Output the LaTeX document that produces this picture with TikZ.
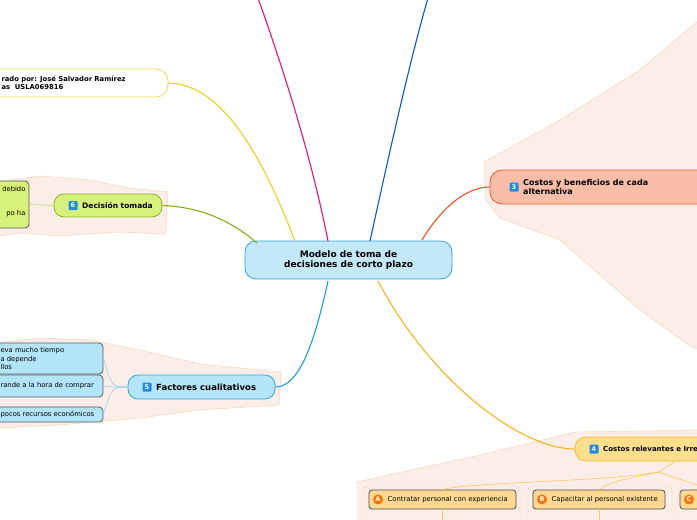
\documentclass[tikz,border=0pt]{standalone}
\usepackage{fontspec}
\setmainfont{DejaVu Sans}
\usetikzlibrary{positioning}
\definecolor{area}{HTML}{FBEEE9}
\definecolor{areab}{HTML}{F9CFA5}
\definecolor{cfill}{RGB}{197,232,248}
\definecolor{pink}{RGB}{230,20,110}
\definecolor{dblue}{RGB}{10,90,190}
\definecolor{ylw}{RGB}{235,210,20}
\definecolor{ylwb}{RGB}{240,220,80}
\definecolor{gb}{RGB}{140,180,40}
\definecolor{gf}{RGB}{214,242,122}
\definecolor{gl}{RGB}{190,220,110}
\definecolor{gc}{RGB}{130,175,20}
\definecolor{rb}{RGB}{241,90,36}
\definecolor{rf}{RGB}{249,189,168}
\definecolor{rc}{RGB}{241,80,30}
\definecolor{bb}{RGB}{47,166,222}
\definecolor{bf}{RGB}{179,229,249}
\definecolor{bc}{RGB}{20,160,225}
\definecolor{bl}{RGB}{150,210,235}
\definecolor{ob}{RGB}{248,182,46}
\definecolor{of}{RGB}{255,223,140}
\definecolor{oc}{RGB}{250,180,20}
\definecolor{af}{RGB}{255,217,145}
\definecolor{ol}{RGB}{250,200,90}
\definecolor{iconb}{RGB}{30,140,230}
\tikzset{x=1pt,y=-1pt,
 box/.style={draw,rounded corners=#1,line width=0.8pt},
 icon/.style={fill=iconb,rounded corners=1pt,text=white,font=\fontsize{6.5}{6.5}\selectfont\bfseries,inner sep=1pt,minimum size=9pt},
 lbl/.style={font=\fontsize{7.5}{9}\selectfont\bfseries,align=left,anchor=west},
 sm/.style={font=\fontsize{6.8}{8.5}\selectfont,align=left,anchor=west},
 con/.style={line width=1.1pt},
 thin/.style={line width=0.6pt}}
\begin{document}
\begin{tikzpicture}
\useasboundingbox (0,0) rectangle (697,520);
\clip (0,0) rectangle (697,520);
% areas
\draw[fill=area,draw=areab] (-5,182) -- (40,176) -- (90,180) -- (130,188) -- (168,192) -- (166,234) -- (120,232) -- (60,236) -- (20,233) -- (-5,237) -- cycle;
\draw[fill=area,draw=areab] (-5,343) -- (40,338) -- (90,340) -- (140,350) -- (200,364) -- (281,372) -- (279,405) -- (200,410) -- (140,418) -- (60,425) -- (0,428) -- cycle;
\draw[fill=area,draw=areab] (484,162) -- (560,120) -- (640,70) -- (697,22) -- (705,22) -- (705,352) -- (690,346) -- (640,310) -- (560,240) -- (500,218) -- (486,200) -- cycle;
\draw[fill=area,draw=areab] (357,482) -- (420,468) -- (480,455) -- (530,443) -- (575,432) -- (705,430) -- (705,525) -- (357,525) -- cycle;
\foreach \a/\b in {363/520,528/672,678/720}
  \draw[fill=area,draw=areab,rounded corners=5pt] (\a,486) rectangle (\b,530);
% central
\node[box=11pt,draw=bb,fill=cfill,minimum width=207pt,minimum height=38pt,align=center,font=\fontsize{9}{10.5}\selectfont\bfseries] (c) at (348.5,260) {Modelo de toma de\\decisiones de corto plazo};
\coordinate (t1) at (258,-2); \coordinate (t2) at (428,-2);
\draw[con,draw=pink] (328,241) .. controls (310,150) and (280,60) .. (t1);
\draw[con,draw=dblue] (370,241) .. controls (390,150) and (410,60) .. (t2);
% author
\node[box=12pt,draw=ylwb,fill=white,minimum width=190pt,minimum height=28pt] (au) at (73,83) {};
\node[lbl,font=\fontsize{6.8}{8}\selectfont\bfseries] at (-2,83) {rado por: José Salvador Ramírez\\as\ \ USLA069816};
\draw[con,draw=ylw] (295,241) .. controls (260,150) and (220,84) .. (au.east);
% decision
\node[box=10pt,draw=gb,fill=gf,minimum width=108pt,minimum height=23pt] (d) at (108,205.5) {};
\node[icon] (i6) at (73,205.5) {6};
\node[lbl,right=1pt of i6] {Decisión tomada};
\node[box=4pt,draw=gray!70!black,fill=gf,minimum width=40pt,minimum height=47pt] (d1) at (9,204.5) {};
\node[sm,anchor=east] at (29,189) {debido};
\node[sm,anchor=east] at (29,214) {po ha};
\draw[thin,draw=gl] (d.west) -- (d1.east);
\draw[con,draw=gc] (257,243) .. controls (230,220) and (200,207) .. (d.east);
% costos y beneficios
\node[box=12pt,draw=rb,fill=rf,minimum width=230pt,minimum height=34pt] (cb) at (605,187) {};
\node[icon] (i3) at (514,187) {3};
\node[lbl,right=1pt of i3,font=\fontsize{8}{9.5}\selectfont\bfseries] {Costos y beneficios de cada\\alternativa};
\draw[con,draw=rc] (422,240) .. controls (440,210) and (465,187) .. (cb.west);
% factores
\node[box=10pt,draw=bb,fill=bf,minimum width=147pt,minimum height=24pt] (f) at (201.5,387) {};
\node[icon] (i5) at (147,387) {5};
\node[lbl,right=1pt of i5,font=\fontsize{8.5}{9}\selectfont\bfseries] {Factores cualitativos};
\draw[con,draw=bc] (328,281) .. controls (315,340) and (300,387) .. (f.east);
\tikzset{fb/.style={box=4pt,draw=gray!70!black,fill=bf}}
\node[fb,minimum width=113pt,minimum height=31pt] (f1) at (46.5,358.5) {};
\node[sm] at (-3,358.5) {eva mucho tiempo\\a depende\\llos};
\node[fb,minimum width=113pt,minimum height=22pt] (f2) at (46.5,386) {};
\node[sm] at (-3,386) {rande a la hora de comprar};
\node[fb,minimum width=113pt,minimum height=15pt] (f3) at (46.5,414.5) {};
\node[sm] at (-3,414.5) {pocos recursos económicos};
\foreach \n in {f1,f2,f3}
  \draw[thin,draw=bl] (f.west) .. controls (112,387) and (112,387) .. (\n.east);
% costos relevantes
\node[box=11pt,draw=ob,fill=of,minimum width=200pt,minimum height=24pt] (cr) at (675,449) {};
\node[icon] (i4) at (594,449) {4};
\node[lbl,right=1pt of i4,font=\fontsize{7}{8}\selectfont\bfseries] {Costos relevantes e Irrelevantes};
\draw[con,draw=oc] (378,281) .. controls (430,380) and (520,449) .. (cr.west);
\tikzset{ab/.style={box=3pt,draw=gray!60!black,fill=af,minimum height=19pt}}
\node[ab,minimum width=147pt] (a) at (442.5,499.5) {};
\node[ab,minimum width=132pt] (b) at (599,499.5) {};
\node[ab,minimum width=60pt] (cc) at (710,499.5) {};
\tikzset{oi/.style={circle,fill=orange!90!red,text=white,inner sep=0.5pt,minimum size=10pt,font=\fontsize{6.5}{6.5}\selectfont\bfseries}}
\node[oi] (icA) at (378,499.5) {A};
\node[sm,right=1pt of icA] {Contratar personal con experiencia};
\node[oi] (icB) at (542,499.5) {B};
\node[sm,right=1pt of icB] {Capacitar al personal existente};
\node[oi] (icC) at (689,499.5) {C};
\coordinate (j) at (659,472);
\draw[thin,draw=ol] (cr.south) -- (j) .. controls (600,482) and (470,482) .. (a.north);
\draw[thin,draw=ol] (j) .. controls (620,480) and (610,482) .. (b.north);
\draw[thin,draw=ol] (j) .. controls (680,480) and (690,482) .. (cc.north);
\draw[thin,draw=ol] (a.south) -- ++(0,15);
\draw[thin,draw=ol] (b.south) -- ++(0,15);
\end{tikzpicture}
\end{document}
